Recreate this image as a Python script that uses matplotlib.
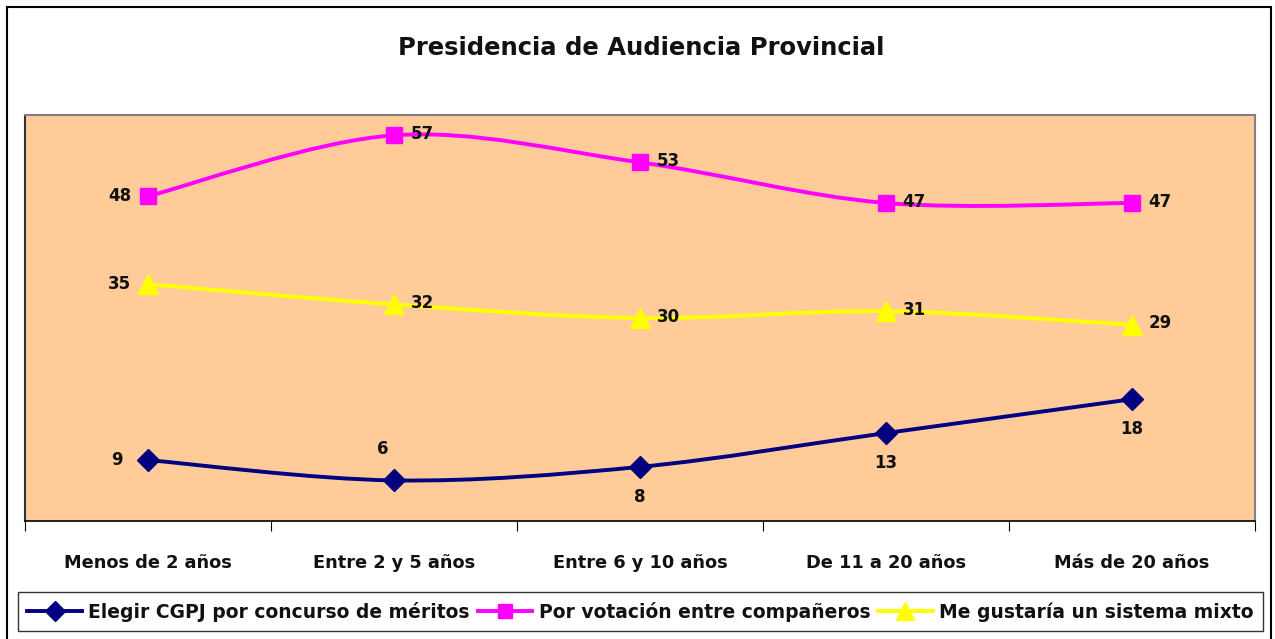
import numpy as np
import matplotlib
matplotlib.use("Agg")
import matplotlib.pyplot as plt
from matplotlib.path import Path
from matplotlib.patches import PathPatch, Rectangle
from matplotlib.lines import Line2D

# datos
categorias = ["Menos de 2 años", "Entre 2 y 5 años", "Entre 6 y 10 años",
              "De 11 a 20 años", "Más de 20 años"]
meritos = [9, 6, 8, 13, 18]
votacion = [48, 57, 53, 47, 47]
mixto = [35, 32, 30, 31, 29]
nombres = ["Elegir CGPJ por concurso de méritos",
           "Por votación entre compañeros",
           "Me gustaría un sistema mixto"]


def curva_suave(xs, ys):
    # linea suavizada tipo Excel (bezier con puntos de control a 1/6)
    pts = np.column_stack([xs, ys]).astype(float)
    n = len(pts)
    verts = [pts[0]]
    codes = [Path.MOVETO]
    for i in range(n - 1):
        p0 = pts[max(i - 1, 0)]
        p1 = pts[i]
        p2 = pts[i + 1]
        p3 = pts[min(i + 2, n - 1)]
        c1 = p1 + (p2 - p0) / 6
        c2 = p2 - (p3 - p1) / 6
        verts += [c1, c2, p2]
        codes += [Path.CURVE4] * 3
    return Path(verts, codes)


plt.rcParams['font.family'] = ['DejaVu Sans']
fig = plt.figure(figsize=(12.75, 6.39), dpi=100)
ax = fig.add_axes([25 / 1275, 1 - 521 / 639, 1230 / 1275, 406 / 639])
ax.set_facecolor("#FFCC99")

x = np.arange(len(categorias))
series = [
    (meritos, "#000080", "D", 11),
    (votacion, "#FF00FF", "s", 11),
    (mixto, "#FFFF00", "^", 14),
]
for vals, col, mk, ms in series:
    ax.add_patch(PathPatch(curva_suave(x, vals), fill=False, edgecolor=col,
                           lw=2.8, zorder=3))
    ax.plot(x, vals, ls="none", marker=mk, ms=ms, color=col, mec=col, zorder=4)

# etiquetas de datos
lab = dict(fontsize=12, fontweight="bold", color="#111111", zorder=5)
for i, v in enumerate(meritos):
    if i == 0:
        ax.annotate(str(v), (i, v), xytext=(-18, 0), textcoords="offset points",
                    ha="right", va="center", **lab)
    elif i == 1:
        ax.annotate(str(v), (i, v), xytext=(-8, 16), textcoords="offset points",
                    ha="center", va="bottom", **lab)
    else:
        ax.annotate(str(v), (i, v), xytext=(0, -15), textcoords="offset points",
                    ha="center", va="top", **lab)
for vals in (votacion, mixto):
    for i, v in enumerate(vals):
        if i == 0:
            ax.annotate(str(v), (i, v), xytext=(-12, 0), textcoords="offset points",
                        ha="right", va="center", **lab)
        else:
            ax.annotate(str(v), (i, v), xytext=(12, 1), textcoords="offset points",
                        ha="left", va="center", **lab)

ax.set_xlim(-0.5, len(categorias) - 0.5)
ax.set_ylim(0, 60)
ax.set_yticks([])
ax.set_xticks(np.arange(-0.5, len(categorias)), labels=[""] * (len(categorias) + 1))
ax.set_xticks(x, labels=categorias, minor=True)
ax.tick_params(axis="x", which="major", length=7, direction="out", color="black")
ax.tick_params(axis="x", which="minor", length=0, pad=24, labelsize=12.8,
               labelcolor="#111111")
for t in ax.get_xticklabels(minor=True):
    t.set_fontweight("bold")
ax.spines["bottom"].set_color("black")
ax.spines["bottom"].set_linewidth(1.2)
ax.spines["left"].set_color("#333333")
ax.spines["left"].set_linewidth(1.5)
for s in ("top", "right"):
    ax.spines[s].set_color("#808080")
    ax.spines[s].set_linewidth(1.5)

fig.text(641 / 1275, 1 - 48 / 639, "Presidencia de Audiencia Provincial",
         ha="center", va="center", fontsize=17.5, fontweight="bold",
         color="#111111")

# borde exterior
fig.patches.append(Rectangle((7 / 1275, -0.01), 1264 / 1275, 1 - 7 / 639 + 0.01,
                             transform=fig.transFigure, fill=False,
                             edgecolor="black", lw=1.5))

handles = [Line2D([], [], color=c, lw=2.8, marker=m, ms=s * 0.95, mec=c)
           for (_, c, m, s) in series]
leg = fig.legend(handles, nombres, loc="center", ncol=3, mode="expand",
                 bbox_to_anchor=(18 / 1275, 1 - 634 / 639, 1245 / 1275, 45 / 639),
                 frameon=True, fancybox=False, edgecolor="black",
                 handlelength=2.9, handletextpad=0.35, columnspacing=0.5,
                 prop=dict(size=13.5, weight="bold"), borderpad=0.5,
                 borderaxespad=0)
for t in leg.get_texts():
    t.set_color("#111111")
leg.get_frame().set_linewidth(1.0)

fig.savefig("out.png", dpi=100)
